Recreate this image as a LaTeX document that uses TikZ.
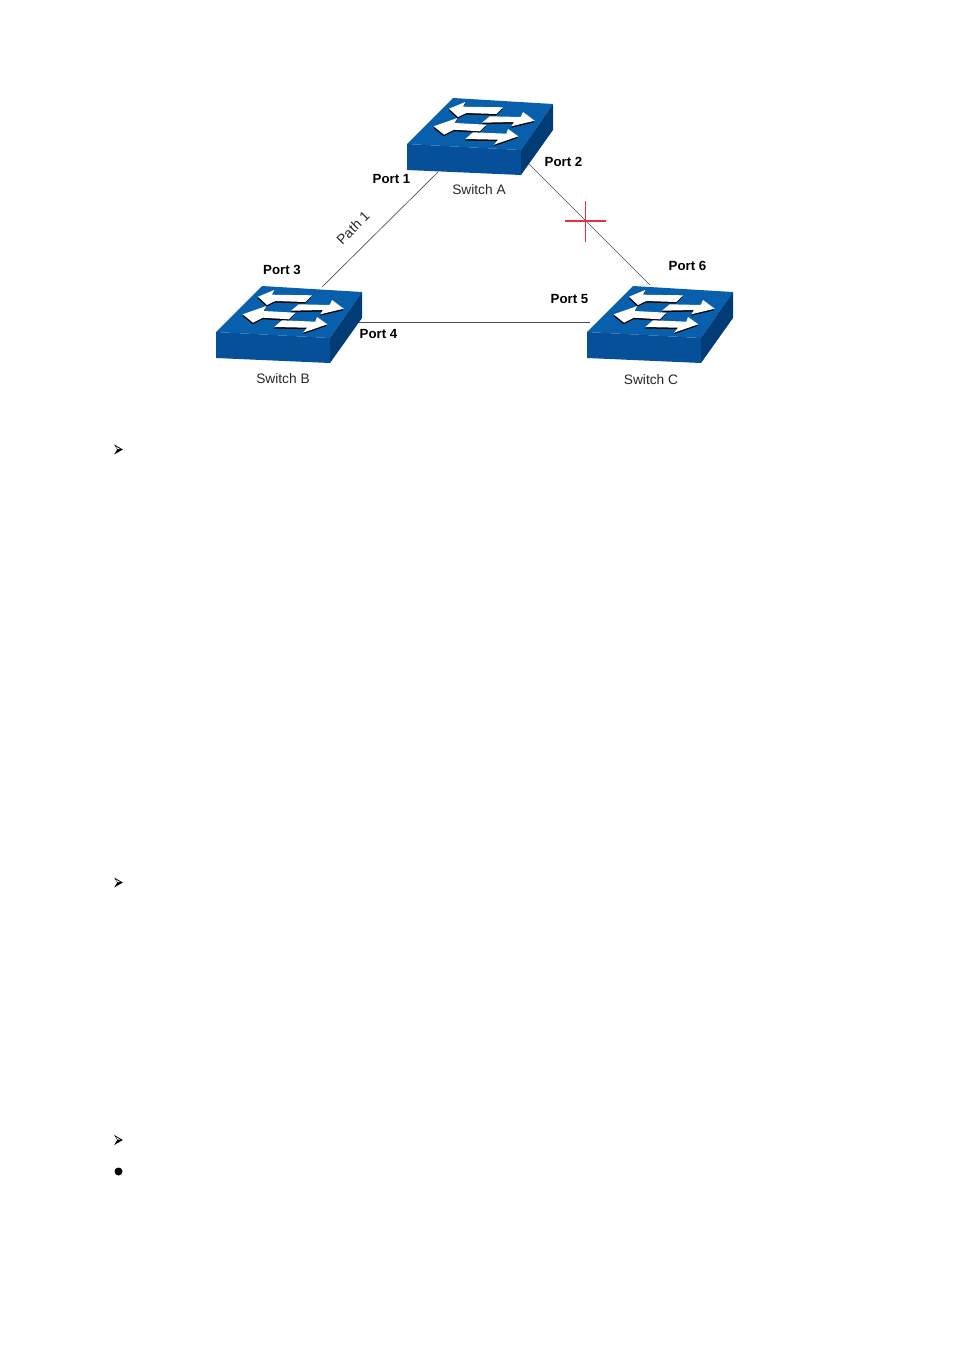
\documentclass[tikz,border=0pt]{standalone}
\usepackage{fontspec}
\setmainfont{Liberation Sans}
\definecolor{swtop}{HTML}{0860AC}
\definecolor{swfront}{HTML}{055099}
\definecolor{swside}{HTML}{023C76}
\definecolor{crossred}{HTML}{E8303C}
\tikzset{
	port/.style = {font=\fontsize{9.95}{12}\selectfont\bfseries, inner sep=0pt},
	swlabel/.style = {font=\fontsize{10.3}{12}\selectfont, inner sep=0pt, text=black!85},
	link/.style = {draw=black!70, line width=0.5pt},
	blocked/.style = {fill=crossred, inner sep=0pt, outer sep=0pt, minimum width=#1},
	listdot/.style = {circle, fill=black, inner sep=0pt, minimum size=6pt},
	listarrow/.pic = {
		\fill[black] (-4.3,-5) -- (4.3,0) -- (-4.3,5) -- (-1.3,0) -- cycle;
		\fill[white] (-2.6,-2.9) -- (1.6,-0.5) -- (-0.9,-0.5) -- cycle;
	},
	switch/.pic = {
		\fill[swtop] (0,0) -- (46,-46) -- (146,-40) -- (114,6) -- cycle;
		\fill[swfront] (0,0) -- (114,6) -- (114,31) -- (0,26) -- cycle;
		\fill[swside] (114,6) -- (146,-40) -- (146,-14) -- (114,31) -- cycle;
		\foreach \dx/\dy/\col in {-0.4/1.5/black, 0/0/white} {
			\begin{scope}[shift={(\dx,\dy)}]
				\fill[\col] (42,-35.3) -- (58.3,-42) -- (56,-37.3) -- (96,-36.7) -- (89.3,-30) -- (59.3,-31) -- (51,-27) -- cycle;
				\fill[\col] (82.7,-27.7) -- (113.7,-27) -- (116,-32) -- (127.7,-23.3) -- (104.3,-17.7) -- (107,-22) -- (75,-21.3) -- cycle;
				\fill[\col] (26.7,-17.7) -- (50.3,-26) -- (47.7,-21) -- (79.3,-19.3) -- (72.7,-12.7) -- (47,-14.3) -- (37,-9.3) -- cycle;
				\fill[\col] (66,-11.7) -- (99.3,-10.3) -- (101,-15) -- (111.3,-7.7) -- (87,0.7) -- (91,-4.3) -- (58.3,-5) -- cycle;
			\end{scope}
		}
	}
}
\begin{document}
\begin{tikzpicture}[x=0.75pt, y=-0.75pt]
	\useasboundingbox (0,0) rectangle (954,1350);

	\coordinate (p1) at (438,172);
	\coordinate (p2) at (528,163);
	\coordinate (p3) at (322,287);
	\coordinate (p4) at (357,322);
	\coordinate (p5) at (590,322);
	\coordinate (p6) at (650,285);

	\draw[link] (p1) -- (p3);
	\draw[link] (p2) -- (p6);
	\draw[link] (p4) -- (p5);

	\pic at (407,144) {switch};
	\pic at (216,332) {switch};
	\pic at (587,332) {switch};

	\node[swlabel] (swa) at (479,190) {Switch A};
	\node[swlabel] (swb) at (283,379) {Switch B};
	\node[swlabel] (swc) at (651,380) {Switch C};

	\node[port] (l1) at (391.5,179) {Port 1};
	\node[port] (l2) at (563.5,162) {Port 2};
	\node[port] (l3) at (282,270) {Port 3};
	\node[port] (l4) at (378.5,334) {Port 4};
	\node[port] (l5) at (569.5,299) {Port 5};
	\node[port] (l6) at (687.5,266) {Port 6};
	\node[swlabel, rotate=45] (path) at (353,228) {Path 1};

	% red cross on the blocked link
	\node[blocked=31pt, minimum height=0.8pt] (crossh) at (585.5,221) {};
	\node[blocked=1pt, minimum height=31pt] (crossv) at (585.5,221.5) {};

	\pic at (118.5,449.5) {listarrow};
	\pic at (118.5,882.5) {listarrow};
	\pic at (118.5,1140) {listarrow};
	\node[listdot] (m4) at (118.5,1171.5) {};
\end{tikzpicture}
\end{document}
